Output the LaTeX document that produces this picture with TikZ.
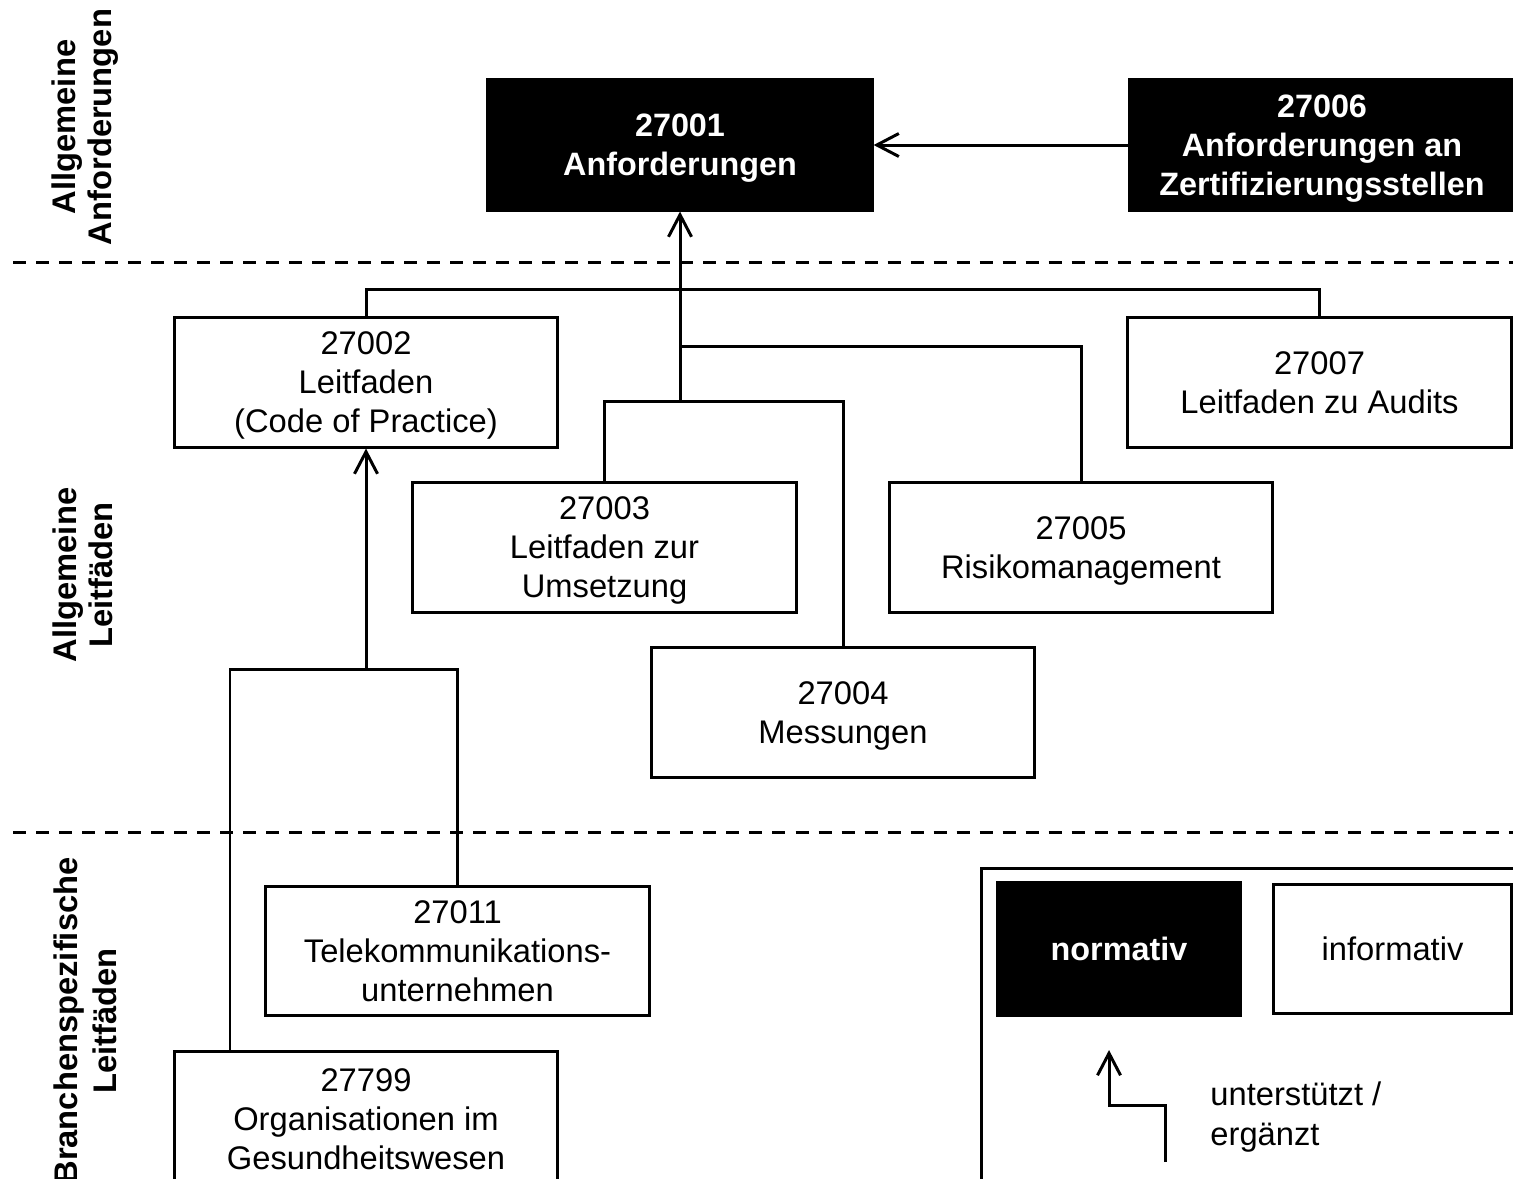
\documentclass[tikz,border=0pt]{standalone}
\usepackage{fontspec}
\setmainfont{Liberation Sans}
\usetikzlibrary{arrows.meta,positioning}

\begin{document}
\begin{tikzpicture}[x=0.01cm, y=-0.01cm,
    box/.style={rectangle, draw, align=center, line width=0.85pt, text depth=-1.6pt},
    normbox/.style={box, fill=black, text=white, minimum width=3.84cm, minimum height=1.3cm, font=\fontsize{9.2}{11.1}\selectfont\bfseries},
    infobox/.style={box, fill=white, minimum width=3.83cm, minimum height=1.29cm, font=\fontsize{9.3}{11.1}\selectfont},
    side/.style={rotate=90, font=\fontsize{9.3}{10.4}\selectfont\bfseries, align=center},
    conn/.style={line width=0.85pt},
    arrow/.style={conn, -{Straight Barb[length=2.2mm, width=2.3mm]}},
    sep/.style={line width=0.85pt, dash pattern=on 0.13cm off 0.1cm}
]
\useasboundingbox (0,0) rectangle (1513,1178);
\clip (0,0) rectangle (1513,1178);

% Separators
\draw[sep] (13,262) -- (1513,262);
\draw[sep] (13,832) -- (1513,832);

% Side labels
\node[side] (lblreq) at (85,127) {Allgemeine\\Anforderungen};
\node[side] (lblgen) at (83,575) {Allgemeine\\Leitfäden};
\node[side, font=\fontsize{9.3}{11}\selectfont\bfseries] (lblsec) at (85,1021) {Branchenspezifische\\Leitfäden};

% Normative standards
\node[normbox] (req) at (680,145) {27001\\Anforderungen};
\node[normbox] (cert) at (1322,145) {27006\\Anforderungen an\\Zertifizierungsstellen};

% General guidelines
\node[infobox] (code) at (366,382.5) {27002\\Leitfaden\\(Code of Practice)};
\node[infobox] (audit) at (1319.5,382.5) {27007\\Leitfaden zu Audits};
\node[infobox] (impl) at (604.5,547.5) {27003\\Leitfaden zur\\Umsetzung};
\node[infobox] (risk) at (1081,547.5) {27005\\Risikomanagement};
\node[infobox] (meas) at (843,712.5) {27004\\Messungen};

% Sector-specific guidelines
\node[infobox] (telco) at (457.5,951) {27011\\Telekommunikations-\\unternehmen};
\node[infobox, minimum height=1.34cm] (health) at (366,1119) {27799\\Organisationen im\\Gesundheitswesen};

% Connectors
\coordinate (hub) at (680,401);
\coordinate (hubrisk) at (680,346);
\coordinate (hubsec) at (366,669);
\coordinate (healthin) at (230,1052);

\draw[arrow] (cert.west) -- (req.east);
\draw[conn] (code.north) -- ++(0,-27) -| (audit.north);
\draw[conn] (risk.north) |- (hubrisk);
\draw[conn] (impl.north) |- (hub) -| (meas.north);
\draw[arrow] (hub) -- (req.south);
\draw[conn] (healthin) |- (hubsec) -| (telco.north);
\draw[arrow] (hubsec) -- (code.south);

% Legend
\draw[conn] (981,868) rectangle (1560,1220);
\node[normbox, minimum width=2.42cm, minimum height=1.32cm] (lgnorm) at (1119,949) {normativ};
\node[infobox, minimum width=2.37cm, minimum height=1.28cm] (lginfo) at (1392.5,949) {informativ};
\coordinate (lgfrom) at (1165,1162);
\coordinate (lgto) at (1109,1050);
\draw[arrow] (lgfrom) -- ++(0,-57) -| (lgto);
\node[anchor=west, align=left, font=\fontsize{9.3}{11.1}\selectfont] (lgtext) at (1198,1117) {unterstützt /\\ergänzt};

\end{tikzpicture}
\end{document}
